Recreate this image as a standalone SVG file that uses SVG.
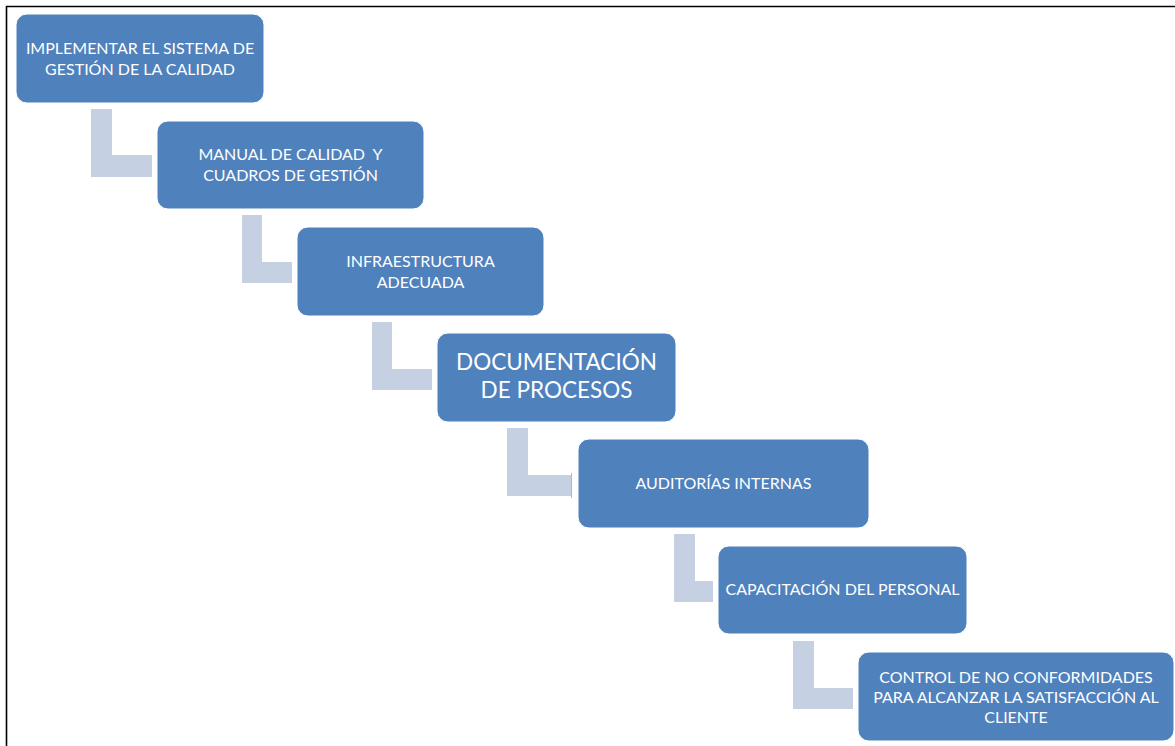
<svg xmlns="http://www.w3.org/2000/svg" width="1175" height="746" viewBox="0 0 1175 746">
<style>
.box{fill:#4f81bd;stroke:#ffffff;stroke-width:1}
.conn{fill:#c5d0e3}
.t{font-family:Lato,"Open Sans","Liberation Sans",sans-serif;font-size:16px;fill:#ffffff;text-anchor:middle}
.big{font-size:22.5px}
</style>
<rect x="0" y="0" width="1175" height="746" fill="#ffffff"/>
<path d="M6.5 760 V6.5 H1190" fill="none" stroke="#000000" stroke-width="1.6"/>
<g id="connectors">
<path class="conn" d="M91 109 H112 V155 H152 V177 H91 Z"/>
<path class="conn" d="M242 215 H262 V262 H292 V283 H242 Z"/>
<path class="conn" d="M372 322 H392 V369 H432 V390 H372 Z"/>
<path class="conn" d="M507 428 H528 V475 H572 V496 H507 Z"/>
<line x1="571.5" y1="473" x2="571.5" y2="498" stroke="#aab6cc" stroke-width="1"/>
<path class="conn" d="M674 534 H695 V581 H713 V602 H674 Z"/>
<path class="conn" d="M793 641 H814 V688 H853 V709 H793 Z"/>
</g>
<g id="n1">
<rect class="box" x="16" y="14" width="248" height="89" rx="11"/>
<text class="t" x="140" y="54">IMPLEMENTAR EL SISTEMA DE</text>
<text class="t" x="140" y="75">GESTIÓN DE LA CALIDAD</text>
</g>
<g id="n2">
<rect class="box" x="157" y="121" width="267" height="88" rx="11"/>
<text class="t" x="290.5" y="160" xml:space="preserve">MANUAL DE CALIDAD  Y</text>
<text class="t" x="290.5" y="181">CUADROS DE GESTIÓN</text>
</g>
<g id="n3">
<rect class="box" x="297" y="227" width="247" height="89" rx="11"/>
<text class="t" x="420.5" y="267">INFRAESTRUCTURA</text>
<text class="t" x="420.5" y="288">ADECUADA</text>
</g>
<g id="n4">
<rect class="box" x="437" y="333" width="239" height="89" rx="11"/>
<text class="t big" x="556.5" y="370">DOCUMENTACIÓN</text>
<text class="t big" x="556.5" y="398">DE PROCESOS</text>
</g>
<g id="n5">
<rect class="box" x="578" y="439" width="291" height="89" rx="11"/>
<text class="t" x="723.5" y="489">AUDITORÍAS INTERNAS</text>
</g>
<g id="n6">
<rect class="box" x="718" y="546" width="249" height="88" rx="11"/>
<text class="t" x="842.5" y="595">CAPACITACIÓN DEL PERSONAL</text>
</g>
<g id="n7">
<rect class="box" x="858" y="652" width="316" height="89" rx="11"/>
<text class="t" x="1016" y="683">CONTROL DE NO CONFORMIDADES</text>
<text class="t" x="1016" y="703">PARA ALCANZAR LA SATISFACCIÓN AL</text>
<text class="t" x="1016" y="723">CLIENTE</text>
</g>
</svg>
